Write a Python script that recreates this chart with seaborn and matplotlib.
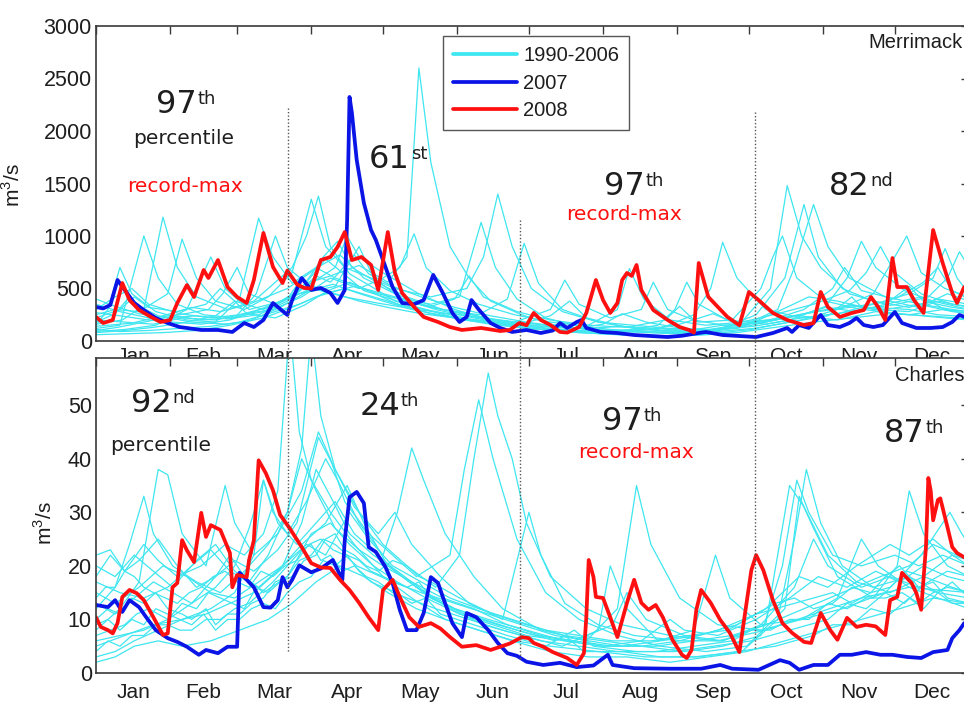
import matplotlib
matplotlib.use("Agg")
import matplotlib.pyplot as plt
from matplotlib.lines import Line2D
import numpy as np
import pandas as pd
import seaborn as sns

# ---------------- data: (day of year, discharge m3/s) ----------------
# Merrimack 1990-2006 (cyan)
merrimack_1990 = [(0,180),(8,260),(14,420),(20,300),(28,1180),(34,700),(42,420),(55,300),(66,380),(75,560),(82,700),(88,1000),(93,1380),(98,900),(106,640),(115,520),(125,380),(138,300),(150,220),(165,160),(180,120),(200,90),(215,80),(235,120),(250,90),(270,140),(285,300),(292,700),(300,1300),(306,900),(315,600),(330,420),(345,350),(358,300),(365,280)]
merrimack_1991 = [(0,120),(10,150),(20,1000),(26,600),(34,350),(45,250),(58,220),(67,450),(75,1000),(80,700),(88,550),(98,620),(110,720),(122,560),(130,800),(135,2600),(140,1700),(148,900),(156,600),(165,380),(178,250),(190,160),(205,110),(220,90),(240,70),(255,80),(270,180),(282,500),(289,1480),(295,1000),(303,700),(315,450),(330,350),(345,420),(355,300),(365,260)]
merrimack_1992 = [(0,250),(8,300),(18,280),(30,450),(36,970),(42,600),(50,380),(62,300),(72,420),(82,650),(90,1350),(96,900),(104,700),(115,600),(125,500),(140,420),(155,500),(162,800),(168,1400),(174,900),(182,500),(195,280),(210,180),(225,120),(240,90),(255,80),(275,120),(295,200),(310,300),(325,450),(339,1000),(345,650),(355,500),(365,420)]
merrimack_1993 = [(0,150),(5,300),(10,700),(15,450),(25,280),(38,200),(50,180),(60,400),(68,1170),(74,800),(82,550),(92,700),(100,600),(112,500),(125,420),(140,350),(152,420),(161,1130),(167,700),(176,400),(188,220),(200,150),(215,110),(230,90),(248,80),(262,120),(276,250),(288,600),(296,1300),(302,800),(312,500),(325,380),(340,320),(352,400),(365,350)]
merrimack_1994 = [(0,90),(12,110),(25,150),(38,300),(48,800),(54,500),(64,300),(78,380),(90,550),(100,700),(105,1000),(110,800),(120,650),(135,450),(150,300),(165,200),(180,140),(195,100),(215,90),(235,110),(250,250),(257,500),(262,940),(268,600),(280,300),(295,220),(310,260),(325,350),(340,450),(350,600),(355,880),(360,600),(365,450)]
merrimack_1995 = [(0,350),(10,280),(22,220),(35,250),(47,300),(53,450),(59,700),(64,450),(75,350),(86,500),(95,800),(101,950),(107,700),(118,550),(130,420),(145,300),(160,250),(172,400),(179,930),(185,550),(195,300),(210,180),(225,150),(240,120),(258,110),(275,140),(290,200),(305,330),(314,600),(320,950),(326,700),(338,480),(350,380),(365,300)]
merrimack_1996 = [(0,200),(12,180),(24,160),(36,220),(50,200),(62,260),(74,300),(86,420),(98,600),(110,500),(120,600),(127,700),(133,1020),(138,700),(148,480),(160,350),(175,250),(190,180),(205,140),(218,300),(223,690),(229,400),(240,200),(255,150),(270,180),(285,260),(300,350),(315,480),(322,650),(328,900),(334,650),(345,450),(358,350),(365,330)]
merrimack_1997 = [(0,110),(10,90),(22,100),(35,120),(48,140),(60,180),(72,260),(85,350),(95,450),(108,520),(118,450),(130,380),(145,300),(160,220),(175,180),(190,300),(196,580),(202,350),(215,220),(228,300),(233,560),(239,300),(252,180),(266,200),(278,500),(283,800),(287,1000),(293,600),(305,380),(320,300),(335,350),(348,420),(356,600),(361,850),(365,700)]
merrimack_1998 = [(0,300),(8,420),(15,500),(22,350),(35,260),(48,220),(60,250),(72,320),(85,450),(100,520),(110,900),(116,600),(128,400),(142,300),(158,220),(172,160),(185,130),(200,100),(218,90),(235,150),(242,300),(247,560),(252,350),(264,200),(280,160),(295,220),(310,260),(325,320),(340,300),(352,250),(365,230)]
merrimack_1999 = [(0,140),(15,170),(28,240),(40,320),(52,280),(64,350),(80,500),(94,720),(102,820),(112,600),(125,450),(140,320),(155,260),(170,190),(185,140),(200,120),(212,160),(220,260),(230,180),(245,120),(260,100),(272,150),(285,280),(298,420),(310,380),(325,300),(340,280),(352,380),(365,320)]
merrimack_2000 = [(0,80),(12,100),(24,130),(38,180),(50,240),(58,380),(63,260),(75,220),(87,340),(97,480),(106,560),(114,480),(126,350),(140,260),(154,200),(170,150),(186,110),(202,80),(220,60),(240,50),(258,70),(274,110),(290,180),(306,240),(316,420),(321,300),(336,260),(350,230),(365,200)]
merrimack_2001 = [(0,220),(10,300),(16,420),(22,320),(34,280),(46,350),(52,500),(58,380),(70,300),(84,450),(92,620),(98,560),(108,820),(114,640),(124,520),(136,420),(150,320),(165,240),(180,180),(196,130),(212,100),(230,110),(244,160),(258,260),(266,180),(282,200),(296,300),(308,500),(313,700),(320,480),(334,400),(346,560),(352,700),(358,480),(365,400)]
merrimack_2002 = [(0,60),(14,70),(28,80),(42,100),(56,150),(70,220),(82,320),(92,420),(104,500),(116,420),(128,340),(142,280),(156,210),(170,160),(186,110),(202,80),(218,60),(236,50),(252,55),(268,80),(284,130),(300,180),(316,220),(332,260),(348,240),(365,210)]
merrimack_2003 = [(0,400),(8,330),(18,260),(30,220),(42,240),(55,210),(68,250),(80,380),(88,560),(96,780),(103,650),(112,480),(126,380),(140,330),(150,400),(156,620),(162,420),(176,280),(190,200),(206,150),(222,130),(238,200),(244,330),(250,200),(265,140),(280,180),(295,250),(305,320),(318,280),(330,350),(340,520),(346,380),(358,320),(365,300)]
merrimack_2004 = [(0,160),(11,200),(19,320),(26,240),(40,180),(55,160),(65,200),(77,320),(89,480),(99,540),(109,460),(120,380),(132,300),(146,240),(160,190),(176,150),(190,240),(198,380),(205,220),(220,140),(236,100),(252,90),(268,120),(284,200),(300,280),(316,340),(330,300),(344,350),(358,280),(365,260)]
merrimack_2005 = [(0,100),(9,130),(20,180),(33,240),(44,200),(56,220),(70,280),(80,400),(86,600),(94,480),(104,420),(118,360),(134,300),(148,260),(162,220),(176,180),(192,140),(208,110),(224,90),(240,80),(254,100),(270,160),(286,220),(302,280),(318,330),(332,380),(344,320),(356,450),(365,380)]
merrimack_2006 = [(0,270),(10,240),(22,200),(32,180),(44,160),(56,200),(66,280),(74,350),(82,420),(90,500),(100,450),(110,380),(122,320),(136,260),(150,220),(164,190),(178,160),(192,130),(206,120),(220,140),(234,120),(248,100),(262,150),(278,180),(294,240),(310,200),(326,280),(340,250),(354,300),(365,280)]

merrimack_2007 = [(0,324),(3,310),(6,343),(9,581),(12,486),(16,362),(20,295),(25,219),(30,171),(35,133),(44,105),(51,105),(57,86),(62,171),(66,133),(70,200),(74,362),(80,248),(82,390),(86,600),(90,486),(94,505),(98,457),(101,362),(104,486),(105,1152),(106,2324),(107,2171),(109,1724),(112,1314),(115,1057),(117,962),(120,771),(124,514),(128,362),(133,350),(137,390),(141,629),(145,457),(149,267),(152,181),(155,229),(157,390),(160,300),(165,171),(169,124),(174,86),(180,105),(186,76),(191,100),(194,171),(197,124),(201,181),(203,200),(205,124),(211,86),(218,76),(225,57),(239,38),(245,50),(252,76),(255,86),(262,57),(276,38),(283,76),(289,124),(291,86),(294,152),(298,124),(303,248),(306,152),(311,133),(315,171),(318,219),(321,152),(325,133),(329,152),(334,276),(337,171),(343,124),(349,124),(354,133),(358,181),(361,248),(363,230),(365,240)]
merrimack_2008 = [(0,229),(3,171),(7,200),(11,552),(14,390),(18,295),(23,229),(27,181),(31,200),(34,362),(38,533),(41,419),(45,676),(47,600),(51,771),(55,514),(59,419),(63,362),(66,581),(70,1029),(74,705),(78,552),(80,670),(84,540),(87,505),(90,500),(94,771),(98,800),(101,895),(104,1038),(107,771),(111,800),(115,724),(118,486),(122,1038),(125,648),(128,457),(133,324),(137,229),(143,181),(148,133),(153,105),(161,124),(169,95),(173,105),(177,171),(180,150),(183,267),(186,200),(190,152),(194,86),(197,80),(202,133),(205,267),(209,581),(212,390),(215,267),(218,362),(220,581),(222,648),(224,620),(226,724),(228,486),(233,295),(239,200),(244,133),(248,105),(250,80),(252,743),(256,420),(260,324),(264,229),(269,150),(273,467),(277,390),(283,267),(289,200),(296,152),(300,171),(303,467),(306,324),(311,229),(316,267),(321,295),(324,419),(327,324),(330,200),(333,790),(335,514),(339,514),(342,390),(346,267),(350,1057),(354,743),(358,457),(360,362),(363,514),(365,520)]

# Charles 1990-2006 (cyan)
charles_1990 = [(0,18),(6,22),(12,19),(20,24),(26,21),(34,18),(44,20),(54,24),(62,22),(70,26),(76,34),(81,65),(85,45),(90,36),(98,30),(108,24),(120,18),(132,14),(146,10),(160,8),(175,6),(190,5),(210,4),(230,3),(250,3),(270,4),(285,10),(292,25),(297,38),(303,28),(312,20),(325,16),(340,18),(352,15),(365,14)]
charles_1991 = [(0,12),(8,16),(14,24),(20,33),(24,26),(32,20),(42,17),(52,15),(62,19),(72,24),(80,30),(86,42),(90,64),(94,48),(100,38),(110,30),(120,24),(130,20),(142,16),(152,22),(158,40),(164,56),(168,48),(174,40),(180,28),(190,18),(205,12),(220,9),(240,7),(260,6),(280,8),(300,11),(320,14),(340,16),(365,15)]
charles_1992 = [(0,8),(10,12),(18,17),(26,38),(30,37),(36,26),(46,20),(54,35),(58,28),(66,22),(76,26),(86,34),(93,45),(98,40),(104,32),(114,26),(124,22),(134,18),(148,22),(154,38),(160,51),(166,40),(176,25),(188,15),(202,10),(218,7),(236,5),(255,4),(272,5),(288,12),(294,33),(300,27),(310,18),(325,14),(335,20),(340,34),(346,26),(356,20),(365,18)]
charles_1993 = [(0,5),(12,7),(24,9),(36,10),(48,12),(58,15),(66,22),(70,36),(74,30),(80,26),(88,32),(96,40),(101,36),(110,28),(120,22),(126,30),(132,42),(137,36),(146,26),(158,18),(170,12),(186,8),(205,6),(218,12),(226,35),(232,24),(244,14),(260,9),(278,8),(295,10),(312,12),(330,15),(345,22),(357,30),(362,26),(365,24)]
charles_1994 = [(0,22),(6,23),(12,19),(18,21),(26,25),(34,20),(42,16),(50,18),(58,21),(66,19),(76,23),(84,28),(93,44),(100,38),(108,31),(118,26),(125,30),(132,24),(144,18),(156,13),(170,10),(181,30),(186,22),(196,13),(210,9),(225,7),(245,6),(262,6),(280,9),(290,35),(296,31),(306,22),(318,17),(332,15),(346,18),(358,16),(365,15)]
charles_1995 = [(0,3),(8,4),(16,6),(26,8),(36,10),(46,11),(56,13),(66,15),(76,19),(86,24),(96,28),(105,35),(112,28),(122,20),(134,16),(148,12),(162,9),(178,7),(195,5),(210,8),(215,20),(222,12),(235,6),(250,8),(259,22),(265,14),(278,9),(295,10),(310,14),(320,25),(327,20),(340,16),(352,14),(365,12)]
charles_1996 = [(0,15),(8,13),(18,16),(28,20),(38,18),(48,15),(58,14),(68,17),(78,20),(86,28),(92,38),(98,33),(106,26),(116,22),(126,19),(138,15),(150,12),(164,10),(180,8),(196,6),(212,5),(228,5),(246,4),(262,5),(278,7),(287,20),(293,36),(298,30),(308,22),(320,20),(334,22),(344,20),(354,22),(365,20)]
charles_1997 = [(0,10),(5,12),(10,11),(15,14),(20,13),(25,15),(30,12),(36,11),(40,10),(46,12),(50,9),(55,11),(60,11),(65,13),(70,14),(75,17),(80,18),(85,21),(90,22),(95,25),(100,24),(105,22),(110,21),(115,19),(120,18),(130,16),(135,17),(140,14),(150,12),(162,10),(176,8),(192,6),(200,8),(208,5),(226,4),(242,4),(258,5),(274,6),(290,8),(306,10),(314,13),(322,12),(330,15),(338,13),(345,16),(352,15),(358,17),(365,14)]
charles_1998 = [(0,20),(8,18),(16,22),(24,19),(32,16),(42,21),(50,24),(58,19),(68,16),(78,20),(88,24),(96,22),(106,30),(114,25),(124,20),(136,17),(148,14),(160,12),(174,10),(188,8),(202,7),(216,6),(232,6),(248,7),(264,8),(280,12),(294,18),(306,16),(318,20),(332,24),(340,22),(350,25),(358,22),(365,21)]
charles_1999 = [(0,6),(10,7),(20,8),(30,10),(40,13),(50,16),(58,20),(64,27),(70,36),(76,28),(84,24),(92,28),(100,32),(108,26),(118,22),(128,18),(140,14),(154,11),(168,9),(184,7),(200,6),(216,5),(234,5),(250,6),(266,7),(280,9),(296,12),(312,15),(328,18),(340,20),(350,24),(360,22),(365,21)]
charles_2000 = [(0,2),(8,3),(16,5),(26,6),(36,5),(48,6),(60,8),(72,10),(82,13),(92,17),(102,20),(112,18),(122,15),(134,12),(146,10),(160,8),(174,6),(190,4),(206,3),(222,3),(240,2),(256,3),(272,4),(288,6),(304,8),(320,10),(336,12),(350,14),(365,13)]
charles_2001 = [(0,13),(8,11),(16,14),(24,17),(32,15),(40,13),(50,18),(56,22),(62,18),(70,15),(80,18),(90,26),(98,28),(106,24),(116,20),(126,17),(138,14),(152,11),(166,9),(180,7),(196,6),(212,5),(228,6),(240,10),(246,8),(260,7),(276,10),(290,14),(302,18),(314,16),(326,19),(336,17),(346,20),(356,18),(365,17)]
charles_2002 = [(0,9),(5,10),(10,8),(15,10),(20,9),(25,12),(30,11),(35,10),(40,9),(45,11),(50,8),(55,10),(60,10),(65,12),(70,13),(75,12),(80,15),(85,17),(90,18),(95,21),(100,20),(105,22),(110,19),(115,17),(120,16),(126,15),(132,13),(138,14),(144,11),(158,9),(172,7),(188,5),(196,7),(204,4),(220,4),(236,3),(252,3),(268,4),(284,5),(300,7),(308,9),(316,9),(324,12),(332,11),(340,14),(346,12),(352,15),(358,13),(365,13)]
charles_2003 = [(0,17),(10,15),(20,14),(30,16),(40,20),(48,23),(56,19),(64,17),(72,22),(80,30),(86,40),(92,34),(100,27),(110,23),(120,20),(132,17),(145,14),(158,12),(172,9),(186,7),(200,6),(216,9),(222,15),(230,10),(246,7),(262,6),(278,9),(292,16),(300,25),(306,20),(320,16),(332,18),(344,16),(356,19),(365,18)]
charles_2004 = [(0,7),(6,8),(12,9),(17,11),(22,12),(26,11),(30,10),(36,13),(42,12),(47,15),(52,14),(57,13),(62,12),(67,16),(72,15),(77,17),(82,18),(87,21),(92,22),(96,25),(100,26),(104,23),(108,22),(113,20),(118,19),(124,21),(130,20),(135,18),(140,17),(152,14),(166,11),(180,9),(196,7),(212,6),(228,5),(244,6),(260,8),(276,11),(284,13),(292,14),(300,12),(308,13),(316,16),(324,15),(330,18),(336,20),(344,16),(350,17),(356,14),(365,13)]
charles_2005 = [(0,4),(5,6),(10,5),(15,7),(20,7),(25,9),(30,9),(35,8),(40,8),(46,10),(52,10),(58,12),(64,13),(69,15),(74,17),(78,19),(82,21),(86,23),(90,24),(94,21),(98,22),(103,19),(108,20),(113,18),(118,17),(124,15),(130,14),(136,13),(142,12),(156,10),(170,8),(186,6),(202,5),(218,4),(234,4),(250,5),(266,6),(274,8),(282,8),(290,10),(298,10),(306,13),(314,12),(322,14),(330,14),(337,15),(344,13),(350,15),(356,16),(365,15)]
charles_2006 = [(0,14),(4,16),(8,16),(12,19),(16,18),(20,16),(24,15),(29,14),(34,13),(39,15),(44,16),(49,18),(54,19),(59,17),(64,16),(69,19),(74,18),(79,20),(84,21),(89,24),(94,25),(99,23),(104,22),(109,20),(114,19),(119,18),(124,17),(130,16),(136,15),(150,13),(164,11),(178,9),(192,7),(206,6),(220,5),(236,6),(252,7),(268,9),(276,11),(284,12),(292,13),(300,14),(308,15),(316,13),(324,15),(332,16),(339,19),(346,18),(352,20),(358,22),(365,20)]

charles_2007 = [(0,12.7),(5,12.3),(8,13.6),(11,11.4),(14,13.6),(18,12.3),(21,10.4),(25,8.0),(30,6.5),(34,5.8),(38,4.9),(43,3.4),(46,4.3),(51,3.7),(55,4.9),(59,4.9),(60,18.7),(63,17.4),(66,16.0),(70,12.3),(73,12.2),(76,13.6),(78,17.9),(80,16.0),(82,17.4),(85,20.1),(90,18.8),(94,19.5),(99,21.1),(103,17.4),(104,24.8),(106,32.8),(109,33.8),(112,31.7),(114,23.5),(117,22.6),(121,19.8),(124,16.8),(127,11.8),(130,8.0),(134,8.0),(137,11.2),(140,17.9),(143,16.8),(145,14.2),(149,9.3),(153,6.7),(155,11.2),(159,10.4),(164,8.0),(168,5.6),(172,3.7),(176,3.2),(180,2.1),(187,1.5),(194,1.9),(201,1.1),(208,1.4),(214,3.4),(216,1.5),(225,0.9),(240,0.8),(253,0.8),(261,1.5),(266,0.8),(277,0.6),(286,2.4),(290,1.9),(294,0.6),(300,1.5),(306,1.5),(311,3.4),(316,3.4),(322,3.9),(328,3.4),(333,3.4),(339,3.0),(345,2.8),(350,3.9),(356,4.3),(358,6.5),(361,8.0),(363,9.3),(365,9.5)]
charles_2008 = [(0,10.4),(2,8.6),(5,8.0),(7,7.4),(9,9.3),(11,14.2),(14,15.5),(17,14.9),(20,13.6),(24,10.4),(28,7.1),(30,7.4),(32,16.0),(34,16.8),(36,24.8),(38,22.9),(41,20.7),(44,29.9),(46,25.4),(48,27.6),(52,26.7),(56,22.4),(57,16.0),(59,18.3),(63,17.9),(64,21.1),(66,24.8),(68,39.7),(71,37.3),(74,34.1),(77,29.5),(81,27.0),(86,23.5),(90,20.5),(94,19.7),(98,19.6),(102,17.4),(106,15.5),(110,13.1),(114,10.4),(118,8.0),(120,15.5),(124,17.4),(127,14.2),(131,10.4),(135,8.6),(140,9.3),(144,8.3),(148,6.7),(153,4.9),(159,5.2),(165,4.3),(169,4.9),(173,5.5),(176,6.2),(178,6.7),(181,6.5),(183,5.6),(187,4.9),(191,3.9),(197,2.8),(201,1.5),(204,3.7),(205,10.4),(206,21.1),(208,17.9),(209,14.2),(212,14.0),(215,10.4),(218,6.7),(222,13.1),(225,17.4),(228,13.1),(231,11.8),(234,12.7),(237,10.4),(241,6.2),(245,3.4),(247,2.8),(249,4.3),(251,11.8),(253,15.5),(257,13.1),(261,9.9),(265,7.5),(269,3.9),(272,13.1),(274,19.2),(276,22.0),(279,19.2),(283,13.6),(287,9.3),(291,7.5),(296,5.8),(299,5.6),(303,11.2),(307,8.0),(310,6.2),(314,10.3),(318,8.6),(322,9.0),(326,8.7),(330,7.1),(332,13.6),(335,14.2),(337,18.7),(341,16.8),(343,14.9),(345,11.8),(347,23.5),(348,36.4),(349,34.0),(350,28.5),(352,32.3),(353,32.6),(356,27.2),(358,23.5),(360,22.4),(363,21.6),(365,21.5)]

months = ["Jan", "Feb", "Mar", "Apr", "May", "Jun", "Jul", "Aug", "Sep", "Oct", "Nov", "Dec"]
month_lengths = [31, 28, 31, 30, 31, 30, 31, 31, 30, 31, 30, 31]
legend_labels = ["1990-2006", "2007", "2008"]

merrimack_hist = {1990 + i: s for i, s in enumerate([
    merrimack_1990, merrimack_1991, merrimack_1992, merrimack_1993, merrimack_1994,
    merrimack_1995, merrimack_1996, merrimack_1997, merrimack_1998, merrimack_1999,
    merrimack_2000, merrimack_2001, merrimack_2002, merrimack_2003, merrimack_2004,
    merrimack_2005, merrimack_2006])}
charles_hist = {1990 + i: s for i, s in enumerate([
    charles_1990, charles_1991, charles_1992, charles_1993, charles_1994,
    charles_1995, charles_1996, charles_1997, charles_1998, charles_1999,
    charles_2000, charles_2001, charles_2002, charles_2003, charles_2004,
    charles_2005, charles_2006])}

# ---------------- styling ----------------
CYAN = "#3ee6f0"
BLUE = "#0a14e6"
RED = "#ff1010"
FRAME = "#3a3a3a"
TXT = "#1e1e1e"

sns.set_theme(style="white")
plt.rcParams["font.family"] = ["Liberation Sans", "DejaVu Sans"]
plt.rcParams["mathtext.fontset"] = "custom"
plt.rcParams["mathtext.rm"] = "Liberation Sans"


def long_df(d):
    rows = [(yr, day, q) for yr, pts in d.items() for day, q in pts]
    return pd.DataFrame(rows, columns=["year", "day", "flow"])


def xy(pts):
    a = np.array(pts, dtype=float)
    return a[:, 0], a[:, 1]


fig = plt.figure(figsize=(9.64, 7.04), dpi=100)
W, H = 964.0, 704.0
ax_top = fig.add_axes([96 / W, 1 - 341 / H, 873 / W, 315 / H])
ax_bot = fig.add_axes([96 / W, 1 - 673 / H, 873 / W, 315 / H])

month_starts = np.concatenate([[0], np.cumsum(month_lengths)[:-1]])
month_mid = month_starts + np.array(month_lengths) / 2.0

panels = [
    (ax_top, merrimack_hist, merrimack_2007, merrimack_2008, (0, 3000), np.arange(0, 3001, 500)),
    (ax_bot, charles_hist, charles_2007, charles_2008, (0, 58.8), np.arange(0, 51, 10)),
]

for ax, hist, s07, s08, ylim, yt in panels:
    ax.set_facecolor("white")
    sns.lineplot(data=long_df(hist), x="day", y="flow", units="year", estimator=None,
                 color=CYAN, lw=0.9, ax=ax, legend=False, sort=False)
    d, v = xy(s07)
    sns.lineplot(x=d, y=v, color=BLUE, lw=2.7, ax=ax, estimator=None, sort=False)
    d, v = xy(s08)
    sns.lineplot(x=d, y=v, color=RED, lw=2.7, ax=ax, estimator=None, sort=False)
    ax.set_xlim(0, 365)
    ax.set_ylim(*ylim)
    ax.set_yticks(yt)
    ax.set_xticks(month_starts)
    ax.set_xticklabels([])
    ax.set_xticks(month_mid, minor=True)
    ax.set_xticklabels(months, minor=True)
    ax.tick_params(axis="both", which="major", direction="in", length=6, width=1,
                   color=FRAME, top=True, right=True, labelsize=15.5, labelcolor=TXT)
    ax.tick_params(axis="y", pad=3)
    ax.tick_params(axis="x", which="minor", length=0, labelsize=15, labelcolor=TXT)
    for sp in ax.spines.values():
        sp.set_visible(True)
        sp.set_color(FRAME)
        sp.set_linewidth(1.2)
    ax.set_xlabel("")
    ax.set_ylabel("m$^{\\mathrm{3}}$/s", fontsize=15, color=TXT)

ax_top.tick_params(axis="x", which="minor", pad=4)
ax_bot.tick_params(axis="x", which="minor", pad=7)
ax_top.yaxis.set_label_coords(-0.083, 0.495)
ax_bot.yaxis.set_label_coords(-0.046, 0.476)

# legend
handles = [Line2D([], [], color=c, lw=2.7) for c in (CYAN, BLUE, RED)]
leg = ax_top.legend(handles, legend_labels, loc="upper left", bbox_to_anchor=(0.397, 0.968),
                    borderaxespad=0, fontsize=14.5, frameon=True, fancybox=False,
                    framealpha=1, edgecolor="#555555", handlelength=3.2,
                    handletextpad=0.3, labelspacing=0.42, borderpad=0.5)
leg.get_frame().set_linewidth(1.0)
for t in leg.get_texts():
    t.set_color(TXT)

# river names
ax_top.text(0.885, 0.949, "Merrimack", transform=ax_top.transAxes, fontsize=14.5,
            ha="left", va="center", color=TXT)
ax_bot.text(0.915, 0.946, "Charles", transform=ax_bot.transAxes, fontsize=14.5,
            ha="left", va="center", color=TXT)

# percentile annotations
ANN = "DejaVu Sans"


def rank(ax, day, val, num, suffix):
    ax.text(day, val, num, fontsize=23, family=ANN, ha="right", va="baseline", color=TXT)
    ax.annotate(suffix, (day, val), xytext=(0.5, 6.5), textcoords="offset points",
                fontsize=13, family=ANN, ha="left", va="baseline", color=TXT)


def note(ax, day, val, txt, color):
    ax.text(day, val, txt, fontsize=14.5, family=ANN, ha="center", va="center", color=color)


rank(ax_top, 42.2, 2171, "97", "th")
note(ax_top, 36.8, 1924, "percentile", TXT)
note(ax_top, 37.2, 1467, "record-max", RED)
rank(ax_top, 131.3, 1648, "61", "st")
rank(ax_top, 229.5, 1390, "97", "th")
note(ax_top, 220.7, 1200, "record-max", RED)
rank(ax_top, 323.6, 1390, "82", "nd")

rank(ax_bot, 31.8, 48.7, "92", "nd")
note(ax_bot, 27.2, 42.5, "percentile", TXT)
rank(ax_bot, 127.1, 48.1, "24", "th")
rank(ax_bot, 228.7, 45.3, "97", "th")
note(ax_bot, 225.8, 41.2, "record-max", RED)
rank(ax_bot, 346.6, 43.1, "87", "th")

# dotted season dividers spanning both panels
divider_days = [80.3, 177.3, 275.5]
divider_top = [2219, 1152, 2181]     # upper end (Merrimack units)
divider_bottom = [3.9, 2.4, 4.7]     # lower end (Charles units)
inv = fig.transFigure.inverted()
for dd, tv, bv in zip(divider_days, divider_top, divider_bottom):
    x0, y0 = inv.transform(ax_top.transData.transform((dd, tv)))
    x1, y1 = inv.transform(ax_bot.transData.transform((dd, bv)))
    fig.add_artist(Line2D([x0, x1], [y0, y1], transform=fig.transFigure,
                          color="#555555", lw=1.0, ls=(0, (1, 1.5)), zorder=10))

fig.savefig("out.png", dpi=100, facecolor="white")
